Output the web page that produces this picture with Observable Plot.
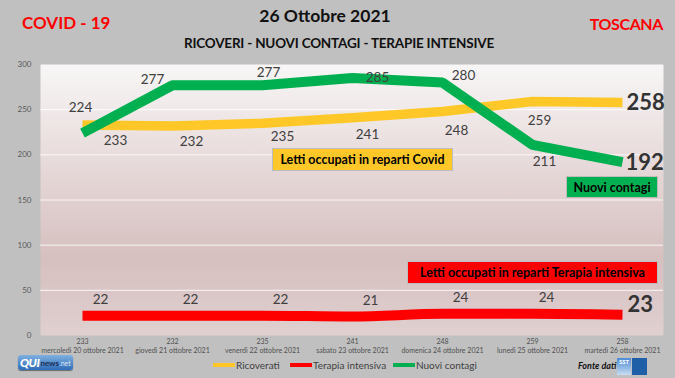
<!DOCTYPE html>
<html>
<head>
<meta charset="utf-8">
<script src="https://cdn.jsdelivr.net/npm/d3@7"></script>
<script src="https://cdn.jsdelivr.net/npm/@observablehq/plot@0.6"></script>
<style>
  html, body { margin: 0; padding: 0; }
  body { width: 675px; height: 378px; background: #c0c0c0; font-family: Lato, "Open Sans", sans-serif; overflow: hidden; }
  #wrap { position: relative; width: 675px; height: 378px; }
  #chart { position: absolute; left: 0; top: 0; }
  .abs { position: absolute; white-space: nowrap; }
  .hdr { font-weight: bold; }
  .box { position: absolute; box-sizing: border-box; border: 1px solid #bdbdbd; font-weight: bold; color: #000;
         display: flex; align-items: center; justify-content: center; font-size: 12.5px; white-space: nowrap; }
  .leg { position: absolute; top: 359px; font-size: 10px; color: #404040; display: flex; align-items: center; }
  .sw { display: inline-block; width: 22px; height: 4px; margin-right: 1px; }
</style>
</head>
<body>
<div id="wrap">
  <div id="chart"></div>
  <div class="abs hdr" style="left:0;width:650px;top:5px;text-align:center;font-size:17.5px;color:#111;">26 Ottobre 2021</div>
  <div class="abs hdr" style="left:0;width:678px;top:35px;text-align:center;font-size:13.5px;color:#111;letter-spacing:-0.2px;">RICOVERI - NUOVI CONTAGI - TERAPIE INTENSIVE</div>
  <div class="abs hdr" style="left:22px;top:12px;font-size:17px;color:#ff0000;">COVID - 19</div>
  <div class="abs hdr" style="right:12px;top:14px;font-size:16px;color:#ff0000;letter-spacing:-0.4px;">TOSCANA</div>

  <div class="box" style="left:272px;top:148px;width:181px;height:23px;background:#ffc828;">Letti occupati in reparti Covid</div>
  <div class="box" style="left:566px;top:176px;width:92px;height:22px;background:#00b050;">Nuovi contagi</div>
  <div class="box" style="left:407px;top:261px;width:251px;height:23px;background:#ff0000;">Letti occupati in reparti Terapia intensiva</div>

  <div class="leg" style="left:213px;"><span class="sw" style="background:#ffc828"></span>Ricoverati</div>
  <div class="leg" style="left:290px;"><span class="sw" style="background:#ff0000"></span>Terapia intensiva</div>
  <div class="leg" style="left:393px;"><span class="sw" style="background:#00b050"></span>Nuovi contagi</div>

  <div class="abs" style="left:18px;top:355px;width:55px;height:15px;border-radius:3px;background:linear-gradient(#7fb0e0,#2f6db8);box-shadow:0 1px 1px #6a6a6a;display:flex;align-items:center;padding-left:2px;box-sizing:border-box;">
    <span style="color:#fff;font-weight:900;font-size:12px;font-style:italic;letter-spacing:-0.5px;">QUI</span><span style="color:#1a2e55;font-weight:bold;font-size:8px;margin-left:1px;">news</span><span style="color:#dfe9f5;font-size:7px;">.net</span>
  </div>
  <div class="abs" style="left:578px;top:360px;font-size:9px;font-weight:bold;font-style:italic;color:#111;">Fonte dati</div>
  <div class="abs" style="left:617px;top:358px;width:14px;height:17px;background:linear-gradient(#4a8ad6,#c9dcf0);color:#fff;font-size:6px;font-weight:bold;text-align:center;">SST</div>
  <div class="abs" style="left:632px;top:358px;width:15px;height:17px;background:#1f5fa8;"></div>
</div>
<script>
// ---- data ----
const dates = ["2021-10-20","2021-10-21","2021-10-22","2021-10-23","2021-10-24","2021-10-25","2021-10-26"];
const dateLabels = ["mercoledì 20 ottobre 2021","giovedì 21 ottobre 2021","venerdì 22 ottobre 2021","sabato 23 ottobre 2021","domenica 24 ottobre 2021","lunedì 25 ottobre 2021","martedì 26 ottobre 2021"];
const ricoverati = [233, 232, 235, 241, 248, 259, 258];
const nuoviContagi = [224, 277, 277, 285, 280, 211, 192];
const terapiaIntensiva = [22, 22, 22, 21, 24, 24, 23];
const yTicks = [0, 50, 100, 150, 200, 250, 300];

const rows = dates.map((d, i) => ({
  i, date: d, ric: ricoverati[i], nc: nuoviContagi[i], ti: terapiaIntensiva[i]
}));

const YEL = "#ffc828", GRN = "#00b050", RED = "#ff0000", LBL = "#404040";

function lab(key, idx, dx, dy, opts = {}) {
  return Plot.text(rows.filter(r => r.i === idx), {
    x: "date", y: key, text: d => String(d[key]), dx, dy,
    fill: LBL, fontSize: 13.5, ...opts
  });
}

const marks = [
  Plot.frame({fill: "url(#bgGrad)", stroke: "none"}),
  Plot.gridY([50, 100, 150, 200, 250], {stroke: "#ffffff", strokeOpacity: 0.85, strokeWidth: 1}),
  Plot.axisY(yTicks, {tickSize: 0, tickPadding: 9, fontSize: 8, fill: "#595959", label: null}),
  Plot.axisX({tickSize: 0, tickPadding: 3, fontSize: 7, fill: "#505050", label: null, lineHeight: 1.2,
    tickFormat: (d) => { const i = dates.indexOf(d); return ricoverati[i] + "\n" + dateLabels[i]; }}),
  Plot.line(rows, {x: "date", y: "ric", stroke: YEL, strokeWidth: 9.5, strokeLinecap: "butt", strokeLinejoin: "round"}),
  Plot.line(rows, {x: "date", y: "ti", stroke: RED, strokeWidth: 10, strokeLinecap: "butt", strokeLinejoin: "round", curve: "monotone-x"}),
  Plot.line(rows, {x: "date", y: "nc", stroke: GRN, strokeWidth: 10, strokeLinecap: "butt", strokeLinejoin: "miter"}),
  // Ricoverati labels
  lab("ric", 0, 33, 16), lab("ric", 1, 19, 16), lab("ric", 2, 20, 13), lab("ric", 3, 15, 17),
  lab("ric", 4, 14, 19), lab("ric", 5, 7, 19),
  lab("ric", 6, 4, 1, {fontSize: 22, fontWeight: "bold", textAnchor: "start", fill: "#333"}),
  // Nuovi contagi labels
  lab("nc", 0, -2, -25), lab("nc", 1, -20, -6), lab("nc", 2, 6, -13), lab("nc", 3, 25, 0),
  lab("nc", 4, 21, -7), lab("nc", 5, 12, 17),
  lab("nc", 6, 3, 1, {fontSize: 22, fontWeight: "bold", textAnchor: "start", fill: "#333"}),
  // Terapia intensiva labels
  ...[0, 1, 2, 3, 4].map(i => lab("ti", i, 18, -16)),
  lab("ti", 5, 14, -16),
  lab("ti", 6, 5, -10, {fontSize: 22, fontWeight: "bold", textAnchor: "start", fill: "#333"})
];

const chart = Plot.plot({
  width: 675, height: 378,
  marginTop: 64, marginBottom: 43, marginLeft: 40, marginRight: 12,
  style: {background: "transparent", fontFamily: "Lato, 'Open Sans', sans-serif"},
  x: {type: "point", domain: dates, padding: 0.46, axis: null},
  y: {domain: [0, 300], axis: null},
  marks
});

const ns = "http://www.w3.org/2000/svg";
const defs = document.createElementNS(ns, "defs");
defs.innerHTML = `<linearGradient id="bgGrad" x1="0" y1="0" x2="0" y2="1">
  <stop offset="0%" stop-color="#f8f6f6"/>
  <stop offset="45%" stop-color="#e3d3d3"/>
  <stop offset="72%" stop-color="#d6bfbf"/>
  <stop offset="100%" stop-color="#e0d0d0"/>
</linearGradient>`;
chart.insertBefore(defs, chart.firstChild);
document.getElementById("chart").appendChild(chart);
</script>
</body>
</html>
